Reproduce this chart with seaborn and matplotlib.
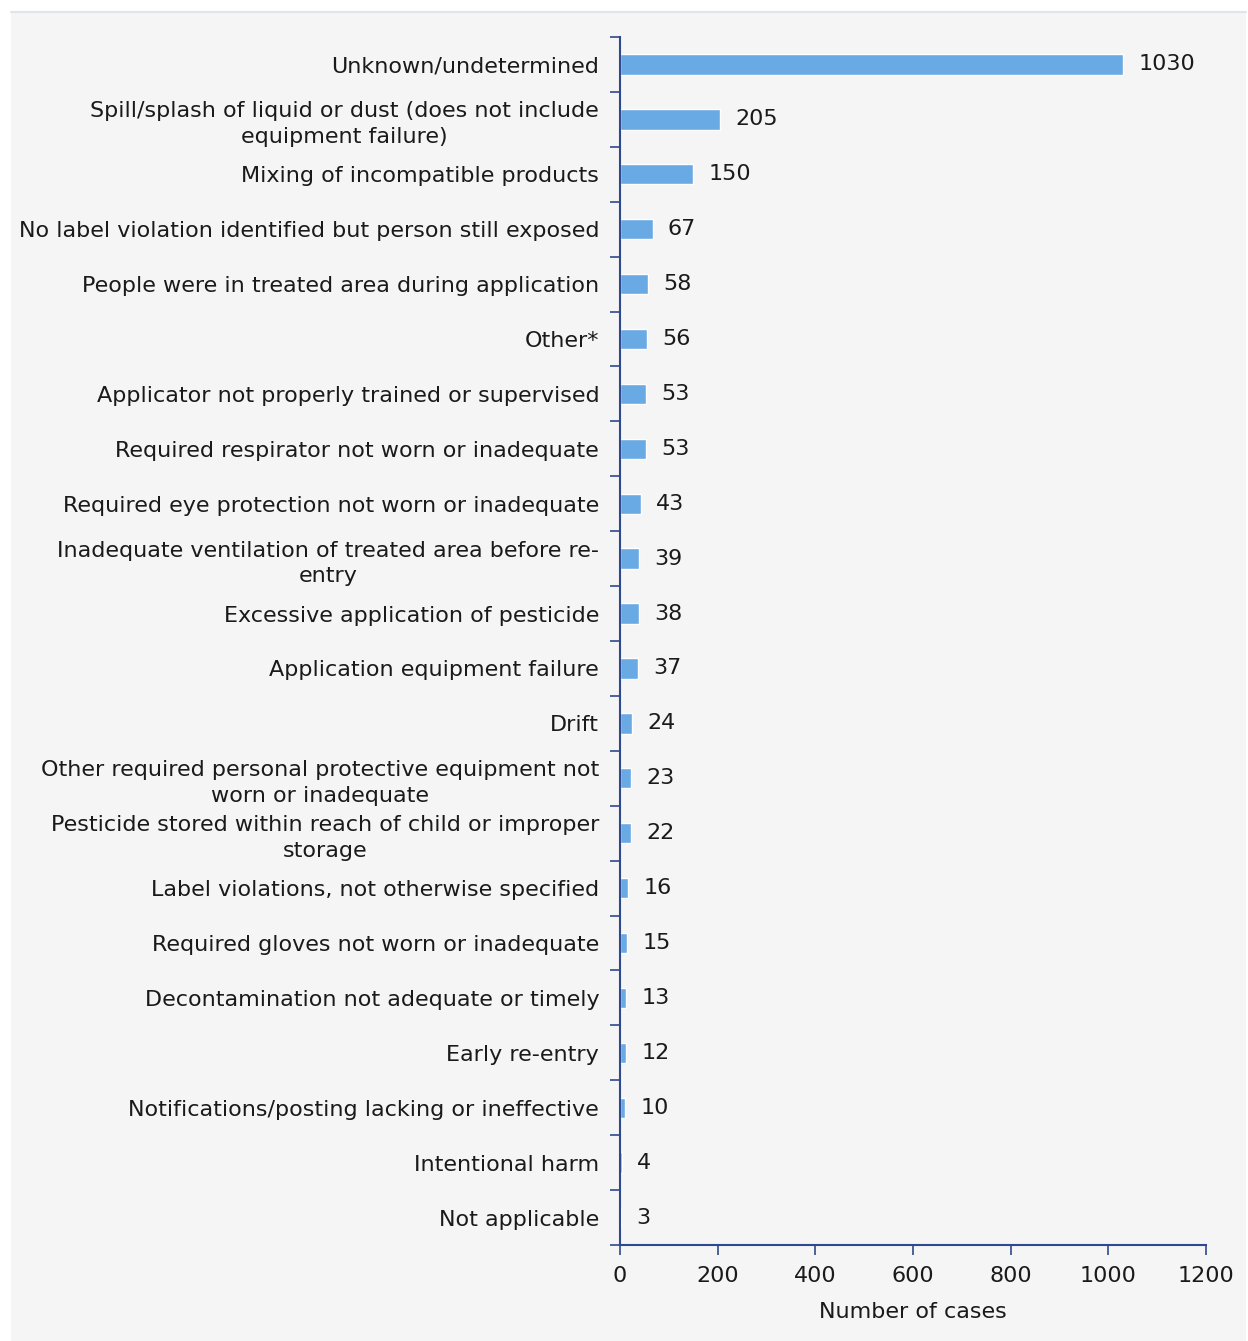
import numpy as np
import pandas as pd
import matplotlib.pyplot as plt
import seaborn as sns
from matplotlib.patches import Rectangle
from matplotlib.ticker import FixedLocator

# data
categories = [
    "Unknown/undetermined",
    "Spill/splash of liquid or dust (does not include\nequipment failure)",
    "Mixing of incompatible products",
    "No label violation identified but person still exposed",
    "People were in treated area during application",
    "Other*",
    "Applicator not properly trained or supervised",
    "Required respirator not worn or inadequate",
    "Required eye protection not worn or inadequate",
    "Inadequate ventilation of treated area before re-\nentry",
    "Excessive application of pesticide",
    "Application equipment failure",
    "Drift",
    "Other required personal protective equipment not\nworn or inadequate",
    "Pesticide stored within reach of child or improper\nstorage",
    "Label violations, not otherwise specified",
    "Required gloves not worn or inadequate",
    "Decontamination not adequate or timely",
    "Early re-entry",
    "Notifications/posting lacking or ineffective",
    "Intentional harm",
    "Not applicable",
]
cases = [1030, 205, 150, 67, 58, 56, 53, 53, 43, 39, 38, 37, 24, 23, 22, 16, 15, 13, 12, 10, 4, 3]
x_ticks = [0, 200, 400, 600, 800, 1000, 1200]

df = pd.DataFrame({"cause": categories, "cases": cases})

sns.set_theme(style="white", rc={"axes.facecolor": "#f5f5f5"})
plt.rcParams['font.family'] = ['DejaVu Sans']

AXIS_COL = "#2e4a8c"
BAR_COL = "#6aaae4"
TXT = "#1a1a1a"

fig = plt.figure(figsize=(12.48, 13.41), dpi=100, facecolor="white")
# grey panel behind the chart
fig.patches.append(Rectangle((11 / 1248, 0), (1246 - 11) / 1248, (1341 - 12) / 1341,
                             transform=fig.transFigure, facecolor="#f5f5f5",
                             edgecolor="none", zorder=-5))
fig.add_artist(plt.Line2D([11 / 1248, 1246 / 1248], [1 - 12 / 1341] * 2,
                          transform=fig.transFigure, color="#dfe5ef", lw=1.5))

ax = fig.add_axes([620 / 1248, 1 - 1245 / 1341, (1206 - 620) / 1248, (1245 - 37) / 1341])
sns.barplot(data=df, x="cases", y="cause", orient="h", color=BAR_COL,
            width=0.37, saturation=1, ax=ax)

ax.set_xlim(0, 1200)
ax.set_ylim(len(categories) - 0.5, -0.5)
ax.set_xticks(x_ticks)
ax.set_xticklabels([str(t) for t in x_ticks], fontsize=16, color=TXT)
ax.set_xlabel("Number of cases", fontsize=16, color=TXT, labelpad=12)
ax.set_ylabel("")

for lab in ax.get_yticklabels():
    lab.set_fontsize(16)
    lab.set_color(TXT)
    lab.set_multialignment("center")
    lab.set_linespacing(1.35)
ax.tick_params(axis="y", which="major", length=0, pad=15)
ax.yaxis.set_minor_locator(FixedLocator(np.arange(-0.5, len(categories), 1.0)))
ax.tick_params(axis="y", which="minor", left=True, length=7, width=1.2, color=AXIS_COL, direction="out")
ax.tick_params(axis="x", which="major", bottom=True, length=7, width=1.2, color=AXIS_COL,
               direction="out", pad=8)

for side in ["top", "right"]:
    ax.spines[side].set_visible(False)
for side in ["left", "bottom"]:
    ax.spines[side].set_color(AXIS_COL)
    ax.spines[side].set_linewidth(1.5)

texts = ax.bar_label(ax.containers[0], labels=[str(v) for v in cases], padding=11,
                     fontsize=16, color=TXT)
for t in texts:
    t.set_va("center")
    t.set_y(t.get_position()[1])

fig.savefig("out.png", dpi=100, facecolor="white")
